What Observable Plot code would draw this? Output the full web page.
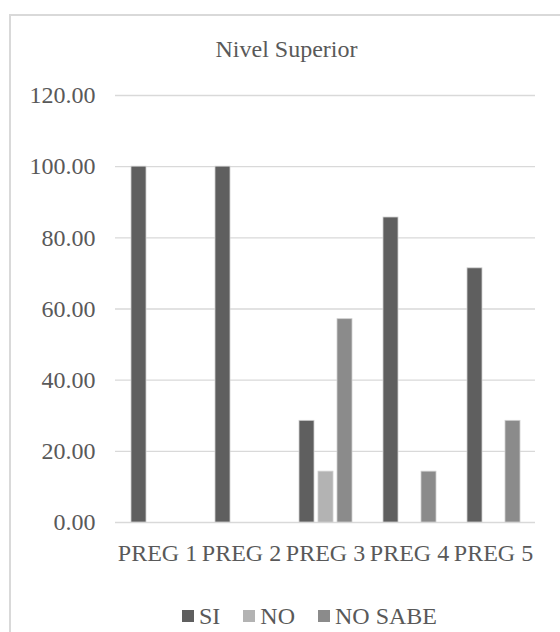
<!DOCTYPE html>
<html><head><meta charset="utf-8">
<script src="https://cdn.jsdelivr.net/npm/d3@7"></script>
<script src="https://cdn.jsdelivr.net/npm/@observablehq/plot@0.6"></script>
<style>
body{margin:0;background:#fff;}
#wrap{position:relative;width:560px;height:632px;overflow:hidden;font-family:"Liberation Serif","Times New Roman",serif;color:#595959;background:#fff;}
#frame{position:absolute;left:9px;top:14px;width:600px;height:700px;border:2px solid #d9d9d9;box-sizing:border-box;}
#title{position:absolute;left:0;width:573px;top:37px;text-align:center;font-size:24px;line-height:24px;}
#chart{position:absolute;left:0;top:0;}
#legend{position:absolute;top:604px;left:182px;display:flex;align-items:center;font-size:24px;line-height:24px;gap:23px;}
.item{display:flex;align-items:center;}
.sw{width:12px;height:12px;margin-right:5px;}
</style>
</head><body>
<div id="wrap">
  <div id="frame"></div>
  <div id="chart"></div>
  <div id="title">Nivel Superior</div>
  <div id="legend"></div>
</div>
<script>
const categories = ["PREG 1", "PREG 2", "PREG 3", "PREG 4", "PREG 5"];
const series = ["SI", "NO", "NO SABE"];
const si = [100, 100, 28.57, 85.71, 71.43];
const no = [0, 0, 14.29, 0, 0];
const noSabe = [0, 0, 57.14, 14.29, 28.57];
const yTicks = [0, 20, 40, 60, 80, 100, 120];
const colors = ["#5f5f5f", "#b3b3b3", "#8b8b8b"];

const values = [si, no, noSabe];
const data = [];
categories.forEach((c, i) => series.forEach((s, j) => data.push({cat: c, series: s, value: values[j][i]})));

const chart = Plot.plot({
  width: 560, height: 572,
  marginTop: 95, marginBottom: 50, marginLeft: 113, marginRight: 24,
  style: {fontFamily: '"Liberation Serif","Times New Roman",serif', fontSize: "24px", color: "#595959", background: "transparent", overflow: "visible"},
  fx: {domain: categories, padding: 0, label: null, tickSize: 0, tickPadding: 21, axis: "bottom"},
  x: {domain: series, paddingInner: 0.223, paddingOuter: 0.803, axis: null},
  y: {domain: [0, 120], ticks: yTicks, tickFormat: d3.format(".2f"), tickSize: 0, tickPadding: 20, label: null},
  color: {domain: series, range: colors},
  marks: [
    Plot.gridY(yTicks, {stroke: "#d9d9d9", strokeOpacity: 1, strokeWidth: 1.3}),
    Plot.barY(data, {fx: "cat", x: "series", y: "value", fill: "series", stroke: "#d0d0d0", strokeWidth: 0.8})
  ]
});
document.getElementById("chart").appendChild(chart);

const legend = document.getElementById("legend");
series.forEach((s, j) => {
  const it = document.createElement("div");
  it.className = "item";
  const sw = document.createElement("div");
  sw.className = "sw";
  sw.style.background = colors[j];
  const t = document.createElement("span");
  t.textContent = s;
  it.appendChild(sw); it.appendChild(t);
  legend.appendChild(it);
});
</script>
</body></html>
